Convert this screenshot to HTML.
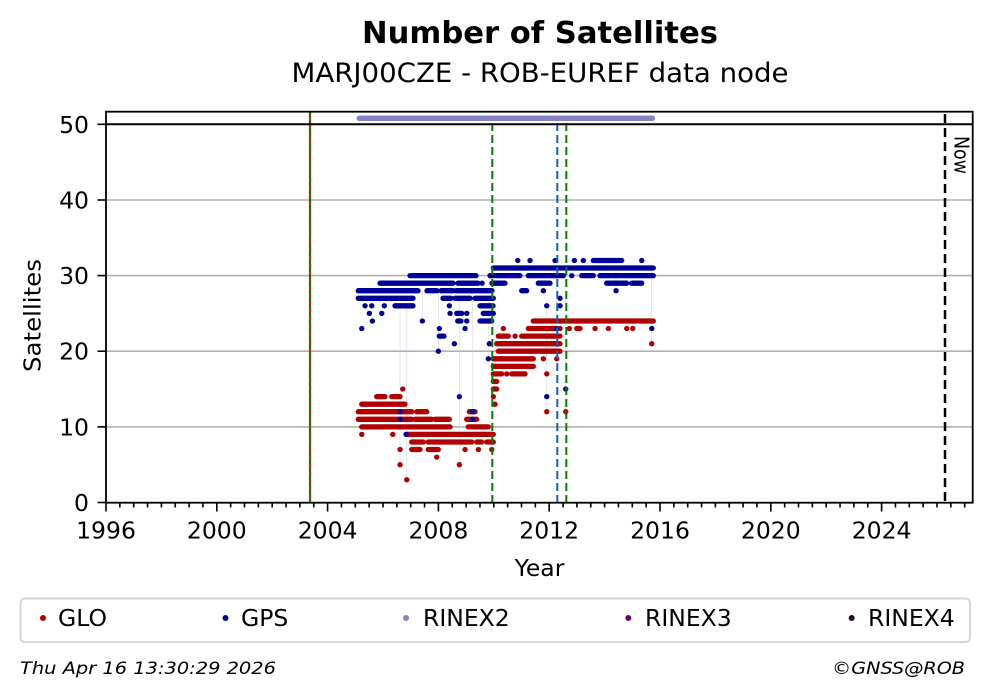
<!DOCTYPE html>
<html><head><meta charset="utf-8"><style>
html,body{margin:0;padding:0;background:#fff;}
svg{display:block;}
text{font-family:"DejaVu Sans","Liberation Sans",sans-serif;fill:#000;}
</style></head><body>
<svg width="993" height="699" viewBox="0 0 993 699" xmlns="http://www.w3.org/2000/svg">
<rect width="993" height="699" fill="#fff"/>
<text x="540" y="43" font-size="30" font-weight="bold" text-anchor="middle" textLength="356" lengthAdjust="spacingAndGlyphs">Number of Satellites</text>
<text x="540" y="82" font-size="26.5" text-anchor="middle" textLength="497" lengthAdjust="spacingAndGlyphs">MARJ00CZE - ROB-EUREF data node</text>

<g stroke="#b0b0b0" stroke-width="1.6">
<line x1="106" y1="200" x2="972.7" y2="200"/>
<line x1="106" y1="275.6" x2="972.7" y2="275.6"/>
<line x1="106" y1="351.2" x2="972.7" y2="351.2"/>
<line x1="106" y1="426.9" x2="972.7" y2="426.9"/>
</g>

<g stroke="#c8c8e8" stroke-width="0.7" opacity="0.7">
<line x1="400" y1="305" x2="400" y2="465"/>
<line x1="406.7" y1="305" x2="406.7" y2="480"/>
<line x1="438.3" y1="290" x2="438.3" y2="351"/>
<line x1="459.3" y1="298" x2="459.3" y2="465"/>
<line x1="472.3" y1="291" x2="472.3" y2="411"/>
<line x1="546.7" y1="305" x2="546.7" y2="411"/>
<line x1="565.7" y1="268" x2="565.7" y2="411"/>
<line x1="651.7" y1="268" x2="651.7" y2="343"/>
<line x1="422.3" y1="290" x2="422.3" y2="321"/>
<line x1="488.3" y1="298" x2="488.3" y2="359"/>
<line x1="556.7" y1="268" x2="556.7" y2="359"/>
<line x1="616" y1="268" x2="616" y2="291"/>
</g>

<path fill="none" stroke="#b20000" stroke-width="5.3" stroke-linecap="round" d="
M402.7 389h0.1 M493.3 389H496.7
M376.7 396.6H385 M391.7 396.6H400 M493.3 396.6h0.1
M361.7 404.2H405 M495 404.2h0.1
M358.3 411.7H411.7 M416.7 411.7H426.7 M469.3 411.7H475 M546.7 411.7h0.1 M565.7 411.7h0.1
M358.3 419.3H411.7 M415 419.3H431.7 M435 419.3H449.3 M466.7 419.3H476.7
M361.7 426.9H450 M468.3 426.9H488.3
M361.7 434.4h0.1 M392.7 434.4h0.1 M406.7 434.4H493.3
M411.7 442H423.3 M428.3 442H471.7 M476.7 442H481.7 M486.7 442H493.3
M400 449.5h0.1 M411.7 449.5H420 M428.3 449.5H438.3 M465 449.5h0.1 M478.3 449.5h0.1 M491.7 449.5h0.1
M436.7 457.1h0.1
M400 464.7h0.1 M459.3 464.7h0.1
M406.7 479.8h0.1
M533.3 321H653.3
M503.3 328.5h0.1 M528.3 328.5H555 M560 328.5h0.1 M569.3 328.5h0.1 M576.7 328.5H580 M595 328.5h0.1 M608.3 328.5h0.1 M626.7 328.5h0.1 M632.7 328.5h0.1
M498.3 336.1H508.3 M515 336.1h0.1 M521.7 336.1H560
M496.7 343.7H560 M651.7 343.7h0.1
M498.3 351.2H560
M493.3 358.8H533.3 M543.3 358.8h0.1 M556.7 358.8h0.1
M493.3 366.4H533.3
M493.3 373.9H501.7 M506.7 373.9h0.1 M511.7 373.9H525 M546.7 373.9h0.1
M493.3 381.5H496.7"/>

<path fill="none" stroke="#000099" stroke-width="5.3" stroke-linecap="round" d="
M517.7 260.5h0.1 M530 260.5h0.1 M555 260.5h0.1 M574.3 260.5h0.1 M583.3 260.5h0.1 M593.3 260.5H621.7 M641.7 260.5h0.1
M493.3 268H653.3
M410 275.6H476 M490 275.6H520 M528.3 275.6H563.3 M571.7 275.6h0.1 M581.7 275.6H593.3 M600 275.6H653.3
M380 283.2H453 M458 283.2H478 M482 283.2h0.1 M492 283.2H505 M538.3 283.2H550 M606.7 283.2H626.7 M631.7 283.2H641.7
M358.3 290.7H418 M427 290.7H437 M441 290.7H453 M456 290.7H492 M521.7 290.7H526.7 M543.3 290.7h0.1 M616 290.7h0.1
M358.3 298.3H413 M443 298.3H451 M455 298.3H470 M475 298.3H493.3 M560 298.3h0.1
M365 305.8h0.1 M371.7 305.8h0.1 M384.3 305.8h0.1 M395 305.8H413 M449.3 305.8h0.1 M480 305.8H493 M546.7 305.8h0.1 M560 305.8h0.1
M369.3 313.4h0.1 M381.7 313.4h0.1 M450 313.4h0.1 M456.7 313.4H461.7 M466.7 313.4h0.1 M483.3 313.4H493.3
M372.3 321h0.1 M422.3 321h0.1 M457.7 321H461 M466.7 321h0.1 M480 321H491.7
M361.7 328.5h0.1 M439.3 328.5h0.1 M465 328.5h0.1 M556.7 328.5h0.1 M651.7 328.5h0.1
M439.3 336.1H444
M454.3 343.7h0.1 M489.3 343.7h0.1
M438.3 351.2h0.1
M488.3 358.8h0.1
M565.7 389h0.1
M459.3 396.6h0.1 M546.7 396.6h0.1
M400 411.7h0.1 M472.3 411.7h0.1
M400 419.3h0.1 M472.3 419.3h0.1
M406 434.4h0.1"/>

<line x1="310" y1="112" x2="310" y2="502.5" stroke="#e02020" stroke-width="2.2"/>
<line x1="310" y1="112" x2="310" y2="502.5" stroke="#008000" stroke-width="1.8" stroke-dasharray="5.5 2.2"/>
<line x1="492.3" y1="123" x2="492.3" y2="502.5" stroke="#008000" stroke-width="2" stroke-dasharray="8 4"/>
<line x1="557.3" y1="123" x2="557.3" y2="502.5" stroke="#1060c0" stroke-width="2" stroke-dasharray="8 4"/>
<line x1="566.3" y1="123" x2="566.3" y2="502.5" stroke="#008000" stroke-width="2" stroke-dasharray="8 4"/>
<line x1="945" y1="114" x2="945" y2="502.5" stroke="#000" stroke-width="2.5" stroke-dasharray="9 5"/>

<line x1="106" y1="124.3" x2="972.7" y2="124.3" stroke="#000" stroke-width="2"/>
<line x1="359.3" y1="118.3" x2="652.3" y2="118.3" stroke="#8484c4" stroke-width="5.5" stroke-linecap="round"/>

<rect x="106" y="111.7" width="866.7" height="391" fill="none" stroke="#000" stroke-width="1.8"/>

<text transform="translate(954.5,136) rotate(90)" font-size="20" textLength="38" lengthAdjust="spacingAndGlyphs">Now</text>

<g stroke="#000" stroke-width="1.6">
<line x1="97.5" y1="502.5" x2="106" y2="502.5"/>
<line x1="97.5" y1="426.9" x2="106" y2="426.9"/>
<line x1="97.5" y1="351.2" x2="106" y2="351.2"/>
<line x1="97.5" y1="275.6" x2="106" y2="275.6"/>
<line x1="97.5" y1="200" x2="106" y2="200"/>
<line x1="97.5" y1="124.3" x2="106" y2="124.3"/>
</g>
<g font-size="23.5" text-anchor="end">
<text x="89" y="511">0</text>
<text x="89" y="435.4">10</text>
<text x="89" y="359.7">20</text>
<text x="89" y="284.1">30</text>
<text x="89" y="208.5">40</text>
<text x="89" y="132.8">50</text>
</g>

<path fill="none" stroke="#000" stroke-width="1.6" d="
M106 502.5v9 M216.8 502.5v9 M327.6 502.5v9 M438.4 502.5v9 M549.2 502.5v9 M660 502.5v9 M770.8 502.5v9 M881.6 502.5v9
M119.85 502.5v5 M133.7 502.5v5 M147.55 502.5v5 M161.4 502.5v5 M175.25 502.5v5 M189.1 502.5v5 M202.95 502.5v5
M230.65 502.5v5 M244.5 502.5v5 M258.35 502.5v5 M272.2 502.5v5 M286.05 502.5v5 M299.9 502.5v5 M313.75 502.5v5
M341.45 502.5v5 M355.3 502.5v5 M369.15 502.5v5 M383 502.5v5 M396.85 502.5v5 M410.7 502.5v5 M424.55 502.5v5
M452.25 502.5v5 M466.1 502.5v5 M479.95 502.5v5 M493.8 502.5v5 M507.65 502.5v5 M521.5 502.5v5 M535.35 502.5v5
M563.05 502.5v5 M576.9 502.5v5 M590.75 502.5v5 M604.6 502.5v5 M618.45 502.5v5 M632.3 502.5v5 M646.15 502.5v5
M673.85 502.5v5 M687.7 502.5v5 M701.55 502.5v5 M715.4 502.5v5 M729.25 502.5v5 M743.1 502.5v5 M756.95 502.5v5
M784.65 502.5v5 M798.5 502.5v5 M812.35 502.5v5 M826.2 502.5v5 M840.05 502.5v5 M853.9 502.5v5 M867.75 502.5v5
M895.45 502.5v5 M909.3 502.5v5 M923.15 502.5v5 M937 502.5v5 M950.85 502.5v5 M964.7 502.5v5"/>
<g font-size="23.5" text-anchor="middle">
<text x="106" y="538.5">1996</text>
<text x="216.8" y="538.5">2000</text>
<text x="327.6" y="538.5">2004</text>
<text x="438.4" y="538.5">2008</text>
<text x="549.2" y="538.5">2012</text>
<text x="660" y="538.5">2016</text>
<text x="770.8" y="538.5">2020</text>
<text x="881.6" y="538.5">2024</text>
</g>
<text x="539.5" y="576" font-size="23.5" text-anchor="middle">Year</text>
<text transform="translate(40.5,315.5) rotate(-90)" font-size="23.5" text-anchor="middle" textLength="113" lengthAdjust="spacingAndGlyphs">Satellites</text>

<rect x="20.5" y="598.5" width="949.5" height="43.5" rx="4" fill="#fff" stroke="#d6d6d6" stroke-width="2"/>
<circle cx="43" cy="618" r="3" fill="#b20000"/>
<circle cx="225.5" cy="618" r="3" fill="#000099"/>
<circle cx="406" cy="618" r="3" fill="#8484c4"/>
<circle cx="628.3" cy="618" r="3" fill="#700070"/>
<circle cx="851.7" cy="618" r="3" fill="#200020"/>
<g font-size="23.5">
<text x="58" y="626">GLO</text>
<text x="241" y="626">GPS</text>
<text x="423" y="626">RINEX2</text>
<text x="645" y="626">RINEX3</text>
<text x="868" y="626">RINEX4</text>
</g>
<text x="20" y="674" font-size="17" font-style="italic" textLength="256" lengthAdjust="spacingAndGlyphs">Thu Apr 16 13:30:29 2026</text>
<text x="965" y="674" font-size="17" font-style="italic" text-anchor="end" textLength="133" lengthAdjust="spacingAndGlyphs">©GNSS@ROB</text>
</svg>
</body></html>
